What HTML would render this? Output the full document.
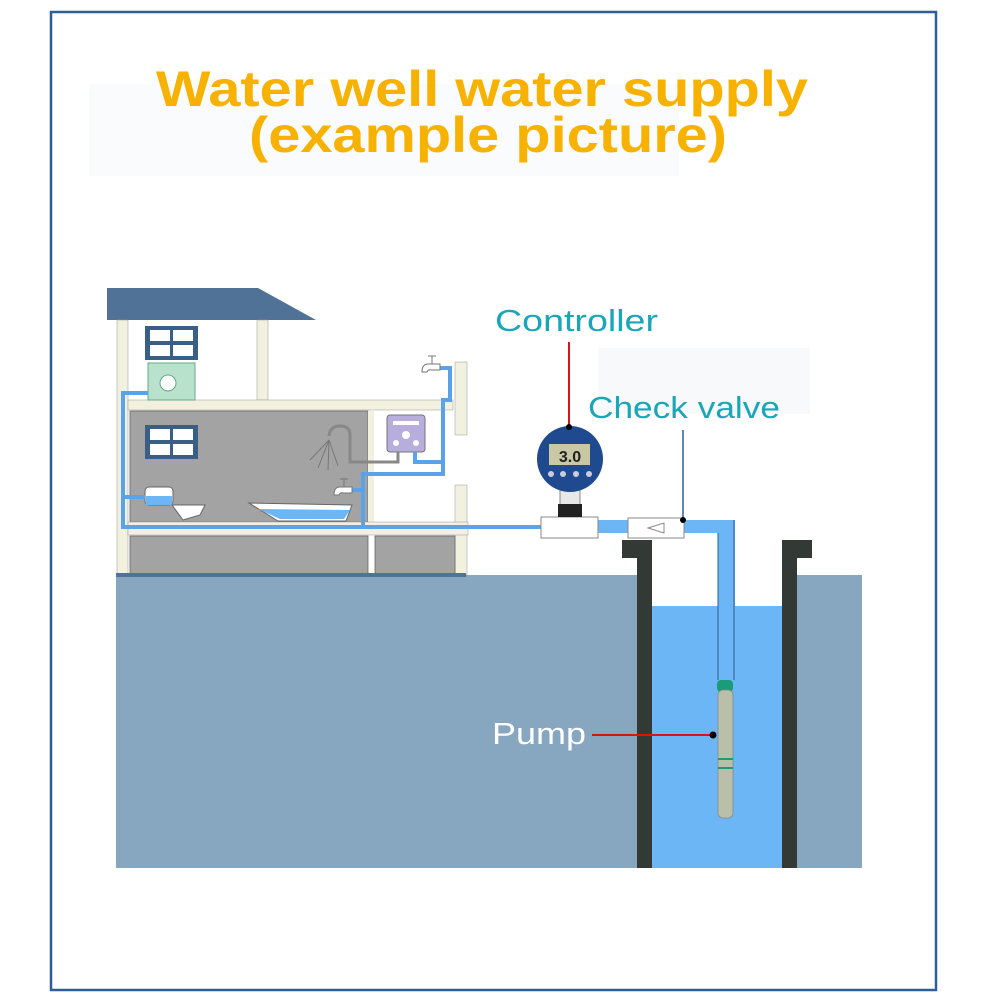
<!DOCTYPE html>
<html><head><meta charset="utf-8"><style>
html,body{margin:0;padding:0;background:#fff;width:1000px;height:1000px;overflow:hidden}
svg{display:block}
</style></head><body>
<svg width="1000" height="1000" viewBox="0 0 1000 1000" xmlns="http://www.w3.org/2000/svg">
<rect x="0" y="0" width="1000" height="1000" fill="#fff"/>
<rect x="51" y="12" width="885" height="978" fill="none" stroke="#2b5f95" stroke-width="2.5"/>
<rect x="89" y="84" width="590" height="92" fill="#f9fbfd"/>
<rect x="598" y="348" width="212" height="66" fill="#f7f9fb"/>
<g font-family="Liberation Sans, sans-serif" font-weight="bold" fill="#f7b200" text-anchor="middle">
<text x="482" y="106" font-size="50" textLength="652" lengthAdjust="spacingAndGlyphs">Water well water supply</text>
<text x="488" y="152" font-size="50" textLength="478" lengthAdjust="spacingAndGlyphs">(example picture)</text>
</g>
<rect x="116" y="575" width="521" height="293" fill="#87a6c0"/>
<rect x="797" y="575" width="65" height="293" fill="#87a6c0"/>
<rect x="652" y="606" width="130" height="262" fill="#6cb6f6"/>
<path d="M622,540 H652 V868 H637 V558 H622 Z" fill="#333a36"/>
<path d="M782,540 H812 V558 H797 V868 H782 Z" fill="#333a36"/>
<polygon points="107,288 258,288 316,320 107,320" fill="#4f7296"/>
<rect x="117" y="320" width="11" height="255" fill="#f2f0df" stroke="#999" stroke-width="0.5"/>
<rect x="257" y="320" width="11" height="80" fill="#f2f0df" stroke="#999" stroke-width="0.5"/>
<rect x="128" y="400" width="325" height="10" fill="#f2f0df" stroke="#999" stroke-width="0.5"/>
<rect x="455" y="362" width="12" height="73" fill="#f2f0df" stroke="#999" stroke-width="0.5"/>
<rect x="455" y="485" width="12" height="90" fill="#f2f0df" stroke="#999" stroke-width="0.5"/>
<rect x="130" y="411" width="238" height="111" fill="#a3a3a3" stroke="#666" stroke-width="0.8"/>
<rect x="368" y="411" width="6" height="124" fill="#f2f0df"/>
<rect x="128" y="522" width="340" height="13" fill="#f2f0df" stroke="#999" stroke-width="0.5"/>
<rect x="130" y="536" width="238" height="38" fill="#a3a3a3" stroke="#666" stroke-width="0.8"/>
<rect x="375" y="536" width="80" height="38" fill="#a3a3a3" stroke="#666" stroke-width="0.8"/>
<rect x="116" y="573" width="350" height="4" fill="#4f7296"/>
<g fill="#3a5f87"><rect x="145" y="326" width="53" height="34"/><rect x="145" y="425" width="53" height="34"/></g>
<g fill="#fff"><rect x="150" y="330" width="20" height="11"/><rect x="173" y="330" width="20" height="11"/><rect x="150" y="345" width="20" height="11"/><rect x="173" y="345" width="20" height="11"/>
<rect x="150" y="429" width="20" height="11"/><rect x="173" y="429" width="20" height="11"/><rect x="150" y="444" width="20" height="11"/><rect x="173" y="444" width="20" height="11"/></g>
<rect x="148" y="363" width="47" height="37" fill="#b9e2cd" stroke="#6a8" stroke-width="1"/>
<circle cx="168" cy="383" r="8" fill="#fff" stroke="#6a8"/>
<rect x="387" y="415" width="38" height="37" rx="3" fill="#b7aedd" stroke="#777" stroke-width="1"/>
<rect x="393" y="421" width="26" height="4" fill="#fff"/>
<circle cx="406" cy="435" r="4" fill="#fff"/><circle cx="396" cy="443" r="3" fill="#fff"/><circle cx="416" cy="443" r="3" fill="#fff"/>
<path d="M398,452 V462 H350 V435 Q350,426 340,426 Q330,426 329,436" fill="none" stroke="#888" stroke-width="3"/>
<g stroke="#777" stroke-width="1"><line x1="329" y1="440" x2="310" y2="460"/><line x1="329" y1="440" x2="318" y2="468"/><line x1="329" y1="440" x2="328" y2="470"/><line x1="329" y1="440" x2="338" y2="466"/></g>
<rect x="145" y="487" width="28" height="18" rx="4" fill="#fff" stroke="#666"/>
<rect x="146" y="496" width="26" height="9" fill="#6cb6f6"/>
<path d="M172,505 L205,505 L200,515 L183,520 Z" fill="#fff" stroke="#666"/>
<path d="M249,503 L352,505 L346,521 L278,521 Z" fill="#fff" stroke="#666"/>
<path d="M258,509 L350,510 L344,519 L280,519 Z" fill="#6cb6f6"/>
<g fill="none" stroke="#5aa3ea" stroke-width="4">
<path d="M148,393 H123 V527 H541"/>
<path d="M123,497 H145"/>
<path d="M352,490 H363 V474 H443 V400 H450 V368 H440"/>
<path d="M363,474 V527"/>
<path d="M415,452 V462 H442"/>
</g>
<g fill="#fff" stroke="#777" stroke-width="1">
<path d="M440,364 H428 Q422,364 422,372 H427 Q428,369 432,370 H440 Z"/>
<path d="M352,487 H340 Q334,487 334,495 H339 Q340,492 344,493 H352 Z"/>
</g>
<g stroke="#777"><line x1="432" y1="356" x2="432" y2="364"/><line x1="428" y1="356" x2="436" y2="356"/><line x1="344" y1="479" x2="344" y2="487"/><line x1="340" y1="479" x2="348" y2="479"/></g>
<rect x="598" y="520" width="30" height="13" fill="#6cb6f6"/>
<path d="M684,520 H735 V680 H718 V533 H684 Z" fill="#6cb6f6"/>
<line x1="718" y1="533" x2="718" y2="680" stroke="#2b5f95" stroke-width="1"/>
<line x1="734" y1="520" x2="734" y2="680" stroke="#2b5f95" stroke-width="1"/>
<rect x="541" y="517" width="57" height="21" fill="#fff" stroke="#888"/>
<rect x="628" y="518" width="56" height="20" fill="#fff" stroke="#888"/>
<polygon points="648,528 664,523 664,533" fill="none" stroke="#888"/>
<rect x="560" y="488" width="20" height="18" fill="#e8e8e8" stroke="#888"/>
<rect x="558" y="504" width="24" height="13" fill="#222"/>
<circle cx="570" cy="459" r="33" fill="#1f4a8f"/>
<rect x="549" y="444" width="41" height="21" fill="#c9c8a4"/>
<text x="570" y="462" font-family="Liberation Sans, sans-serif" font-size="16" font-weight="bold" fill="#222" text-anchor="middle">3.0</text>
<g fill="#ccd"><circle cx="551" cy="474" r="3"/><circle cx="563" cy="474" r="3"/><circle cx="576" cy="474" r="3"/><circle cx="589" cy="474" r="3"/></g>
<line x1="569" y1="342" x2="569" y2="427" stroke="#e01010" stroke-width="2"/>
<circle cx="569" cy="427" r="3" fill="#000"/>
<line x1="683" y1="430" x2="683" y2="520" stroke="#2b5f95" stroke-width="1.5"/>
<circle cx="683" cy="520" r="3" fill="#000"/>
<rect x="717" y="680" width="16" height="12" rx="4" fill="#1a9c78"/>
<rect x="718" y="690" width="15" height="128" rx="5" fill="#b9bfa8" stroke="#888" stroke-width="0.8"/>
<rect x="718" y="758" width="15" height="2" fill="#1a9c78"/><rect x="718" y="767" width="15" height="2" fill="#1a9c78"/>
<line x1="592" y1="735" x2="713" y2="735" stroke="#e01010" stroke-width="2"/>
<circle cx="713" cy="735" r="3.5" fill="#000"/>
<g font-family="Liberation Sans, sans-serif" font-size="31" fill="#1aa6b8">
<text x="495" y="331" textLength="163" lengthAdjust="spacingAndGlyphs">Controller</text>
<text x="588" y="418" textLength="192" lengthAdjust="spacingAndGlyphs">Check valve</text>
</g>
<text x="492" y="744" font-family="Liberation Sans, sans-serif" font-size="31" fill="#fff" textLength="94" lengthAdjust="spacingAndGlyphs">Pump</text>
</svg>
</body></html>
